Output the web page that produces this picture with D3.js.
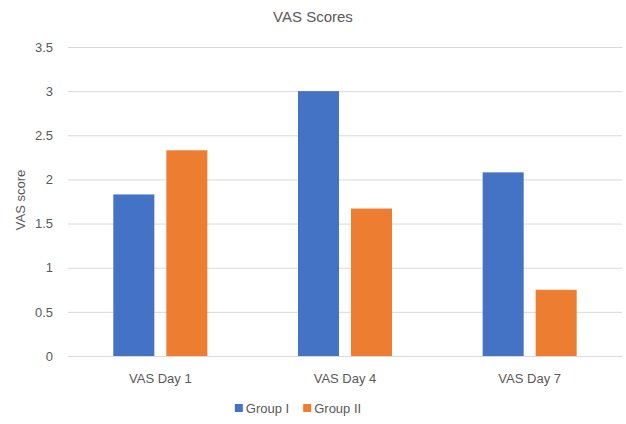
<!DOCTYPE html>
<html>
<head>
<meta charset="utf-8">
<script src="https://cdn.jsdelivr.net/npm/d3@7"></script>
<style>
  body { margin: 0; background: #fff; }
  text { font-family: "Liberation Sans", Arial, sans-serif; fill: #595959; }
</style>
</head>
<body>
<div id="chart"></div>
<script>
// data
categories = ['VAS Day 1', 'VAS Day 4', 'VAS Day 7']
groups = ['Group I', 'Group II']
groupI = [1.83, 3.0, 2.08]
groupII = [2.33, 1.67, 0.75]
yTicks = [0, 0.5, 1, 1.5, 2, 2.5, 3, 3.5]
colors = ['#4472C4', '#ED7D31']

svgWidth = 626
svgHeight = 424

margin = { top: 47, left: 68, right: 4, bottom: 68 }

width = svgWidth - margin.left - margin.right
height = svgHeight - margin.top - margin.bottom

svg = d3.select('#chart')
        .append('svg')
        .attr('width', svgWidth)
        .attr('height', svgHeight)

chartGroup = svg.append('g')
                .attr('transform', `translate(${margin.left},${margin.top})`)

rows = categories.map((c, i) => ({ cat: c, values: [groupI[i], groupII[i]] }))

x0 = d3.scaleBand()
       .domain(categories)
       .range([0, width])

x1 = d3.scaleBand()
       .domain(groups)
       .range([0, x0.bandwidth()])
       .paddingInner(0.226)
       .paddingOuter(0.855)

yScale = d3.scaleLinear()
           .domain([0, 3.5])
           .range([height, 0])

// gridlines
chartGroup.append('g')
          .call(d3.axisLeft(yScale).tickValues(yTicks).tickSize(-width).tickFormat(''))
          .call(g => g.select('.domain').remove())
          .selectAll('line')
          .attr('stroke', '#d9d9d9')

// y tick labels
chartGroup.append('g')
          .call(d3.axisLeft(yScale).tickValues(yTicks).tickSize(0).tickPadding(15).tickFormat(d3.format('')))
          .call(g => g.select('.domain').remove())
          .selectAll('text')
          .style('font-size', '13px')

// bars
catGroups = chartGroup.selectAll('.cat')
                      .data(rows)
                      .enter()
                      .append('g')
                      .attr('transform', d => `translate(${x0(d.cat)},0)`)

catGroups.selectAll('rect')
         .data(d => d.values.map((v, i) => ({ key: groups[i], value: v, idx: i })))
         .enter()
         .append('rect')
         .attr('x', d => x1(d.key))
         .attr('y', d => yScale(d.value))
         .attr('width', x1.bandwidth())
         .attr('height', d => height - yScale(d.value))
         .attr('fill', d => colors[d.idx])

// x axis
chartGroup.append('g')
          .attr('transform', `translate(0,${height})`)
          .call(d3.axisBottom(x0).tickSize(0).tickPadding(18))
          .call(g => g.select('.domain').attr('stroke', '#d9d9d9'))
          .selectAll('text')
          .style('font-size', '13px')

// title
svg.append('text')
   .attr('x', 313)
   .attr('y', 22)
   .attr('text-anchor', 'middle')
   .style('font-size', '15px')
   .text('VAS Scores')

// y axis label
svg.append('text')
   .attr('transform', 'rotate(-90)')
   .attr('x', -200)
   .attr('y', 25)
   .attr('text-anchor', 'middle')
   .style('font-size', '13px')
   .text('VAS score')

// legend, laid out by measured text width
legend = svg.append('g')

legendItems = legend.selectAll('g')
                    .data(groups)
                    .enter()
                    .append('g')

legendItems.append('rect')
           .attr('width', 8)
           .attr('height', 8)
           .attr('y', 2)
           .attr('fill', (d, i) => colors[i])

legendItems.append('text')
           .attr('x', 11)
           .attr('y', 11)
           .style('font-size', '13px')
           .text(d => d)

offset = 0
legendItems.each(function() {
    d3.select(this).attr('transform', `translate(${offset},0)`)
    offset += 11 + d3.select(this).select('text').node().getComputedTextLength() + 14
})
legendWidth = offset - 14
legend.attr('transform', `translate(${298 - legendWidth / 2},402)`)
</script>
</body>
</html>
